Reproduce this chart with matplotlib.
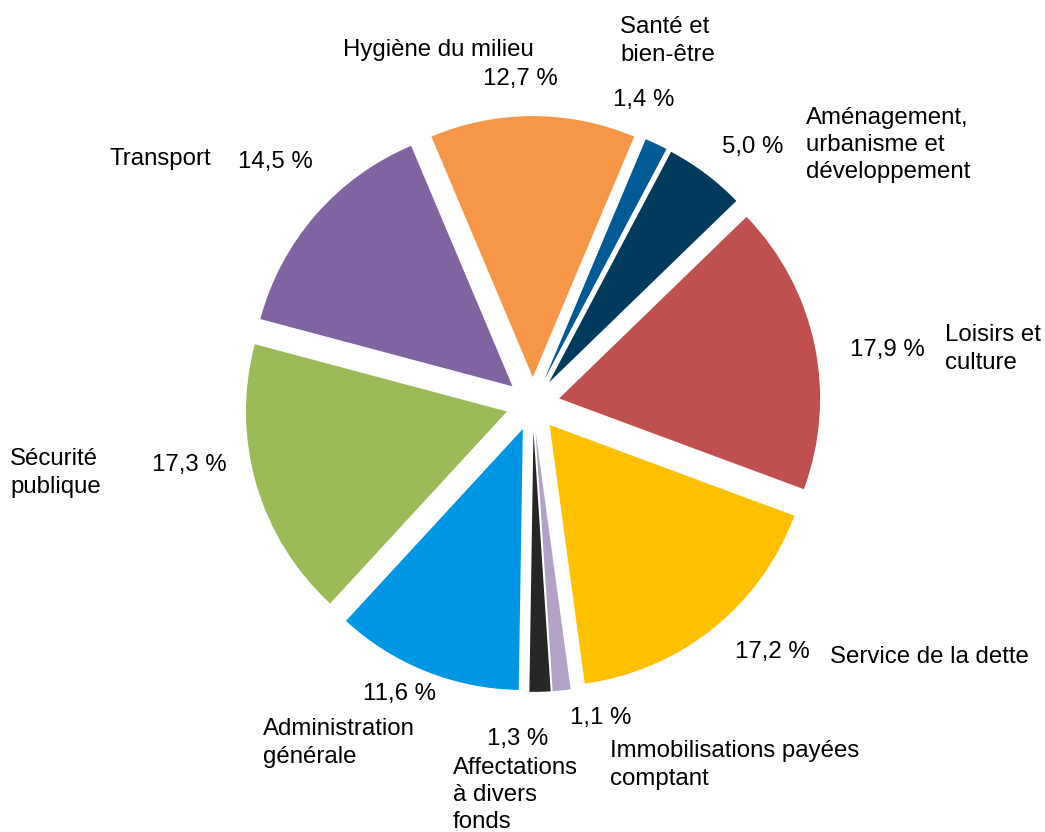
import matplotlib.pyplot as plt

# clockwise from the top
labels = ['Hygiène du milieu', 'Santé et\nbien-être', 'Aménagement,\nurbanisme et\ndéveloppement',
          'Loisirs et\nculture', 'Service de la dette', 'Immobilisations payées\ncomptant',
          'Affectations\nà divers\nfonds', 'Administration\ngénérale', 'Sécurité\npublique', 'Transport']
values = [12.7, 1.4, 5.0, 17.9, 17.2, 1.1, 1.3, 11.6, 17.3, 14.5]
colors = ['#F79646', '#005A96', '#003A5D', '#C0504D', '#FFC000', '#B3A2C7',
          '#262626', '#0096E6', '#9BBB59', '#8064A2']

# text positions in pixels (left x, center y)
name_pos = [(343, 50), (620, 41), (806, 145), (945, 349), (830, 657), (610, 765),
            (453, 795), (263, 743), (10, 473), (110, 159)]
pct_pos = [(483, 79), (613, 100), (722, 147), (850, 350), (735, 652), (570, 718),
           (487, 739), (363, 694), (152, 465), (238, 162)]

W, H = 1045, 832
cx, cy, R = 532.8, 404, 261.0

def px(x, y):
    return (x - cx) / R, (cy - y) / R

plt.rcParams['font.family'] = ['Liberation Sans', 'DejaVu Sans']
fig = plt.figure(figsize=(W / 100, H / 100), dpi=100)
ax = fig.add_axes([0, 0, 1, 1])

start = 90 + values[0] / 100 * 360 / 2
ax.pie(values, colors=colors, startangle=start, counterclock=False,
       explode=[0.103] * len(values), radius=1.0, center=(0, 0),
       wedgeprops=dict(linewidth=0))

ax.set_xlim(px(0, 0)[0], px(W, 0)[0])
ax.set_ylim(px(0, H)[1], px(0, 0)[1])
ax.set_aspect('auto')
ax.axis('off')

fs = 17.3
for lab, (x, y) in zip(labels, name_pos):
    ax.text(*px(x, y), lab, ha='left', va='center', fontsize=fs, linespacing=1.3, color='black')
for v, (x, y) in zip(values, pct_pos):
    ax.text(*px(x, y), f'{v:.1f} %'.replace('.', ','), ha='left', va='center', fontsize=fs, color='black')

fig.savefig('out.png', dpi=100, facecolor='white')
